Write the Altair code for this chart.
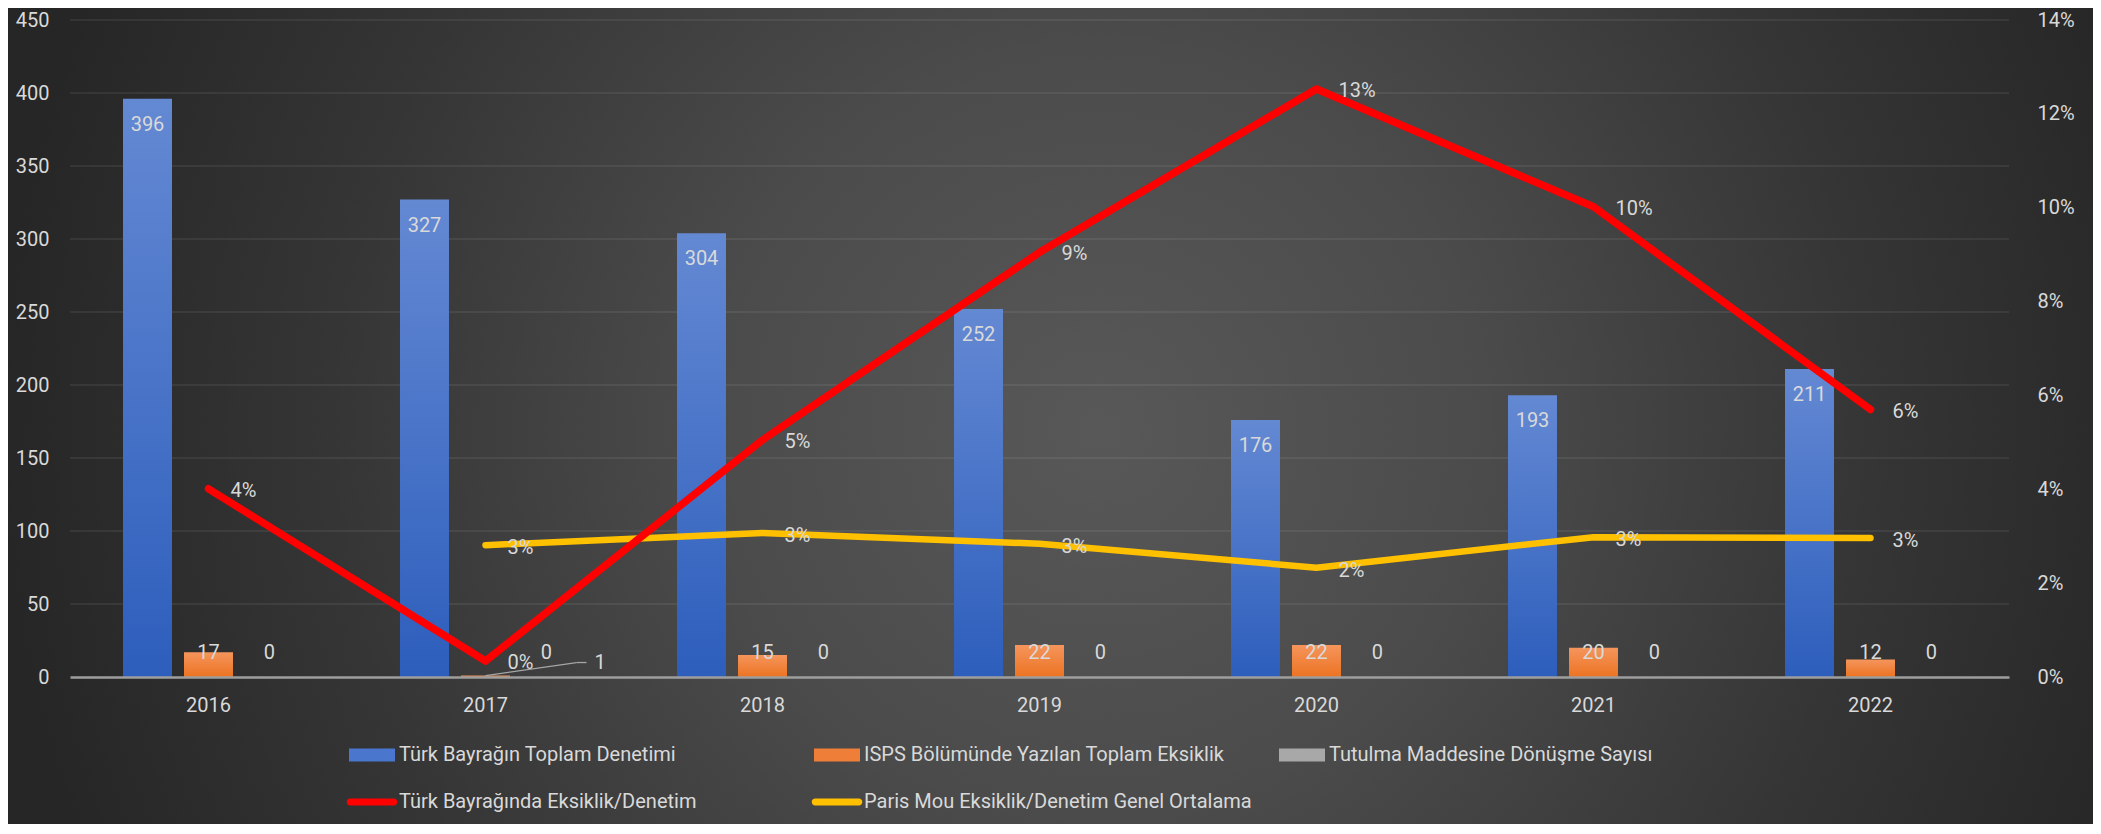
import altair as alt
import pandas as pd

# ---------------- data ----------------
years = ["2016", "2017", "2018", "2019", "2020", "2021", "2022"]
toplam_denetim = [396, 327, 304, 252, 176, 193, 211]
isps_eksiklik = [17, 1, 15, 22, 22, 20, 12]
tutulma = [0, 0, 0, 0, 0, 0, 0]
eksiklik_orani = [0.0401, 0.0034, 0.0505, 0.0905, 0.1253, 0.1002, 0.0570]
paris_mou = [None, 0.0281, 0.0307, 0.0284, 0.0233, 0.0298, 0.0296]
left_ticks = [0, 50, 100, 150, 200, 250, 300, 350, 400, 450]
right_ticks = [0, 0.02, 0.04, 0.06, 0.08, 0.10, 0.12, 0.14]

S_BLUE = "Türk Bayrağın Toplam Denetimi"
S_ORANGE = "ISPS Bölümünde Yazılan Toplam Eksiklik"
S_GRAY = "Tutulma Maddesine Dönüşme Sayısı"
S_RED = "Türk Bayrağında Eksiklik/Denetim"
S_YELLOW = "Paris Mou Eksiklik/Denetim Genel Ortalama"
bar_series = [S_BLUE, S_ORANGE, S_GRAY]
bar_kinds = ["blue", "orange", "gray"]
all_series = bar_series + [S_RED, S_YELLOW]

rows = []
for s, k, vals in zip(bar_series, bar_kinds, [toplam_denetim, isps_eksiklik, tutulma]):
    for y, v in zip(years, vals):
        rows.append({"year": y, "series": s, "kind": k, "v": v})
bars_df = pd.DataFrame(rows)
lines_df = pd.DataFrame({"year": years, "red": eksiklik_orani, "yellow": paris_mou})
ticks_df = pd.DataFrame({"tick": left_ticks[1:]})
legend_df = pd.DataFrame({"series": all_series})
bg_df = pd.DataFrame({"bg": [0]})

# ---------------- style ----------------
W, H = 1939, 657
LBL = "#D9D9D9"
FONT = "Roboto"
FS = 20

x_enc = alt.X(
    "year:N", sort=years, title=None,
    scale=alt.Scale(type="band", paddingInner=0, paddingOuter=0),
    axis=alt.Axis(labelAngle=0, ticks=False, tickSize=0, domain=True, domainColor="#9E9E9E",
                  domainWidth=2.5, labelPadding=18, labelFontSize=FS, labelColor=LBL,
                  labelFont=FONT, grid=False, zindex=1),
)
xoff = alt.XOffset("series:N", scale=alt.Scale(domain=bar_series, paddingInner=0.197, paddingOuter=0.869))

yl_scale = alt.Scale(domain=[0, 450], nice=False, zero=True)
yl_axis = alt.Axis(values=left_ticks, grid=False, domain=False, ticks=False, tickSize=0,
                   labelPadding=21, labelFontSize=FS, labelColor=LBL, labelFont=FONT, zindex=1)

def yl(field):
    return alt.Y(field, scale=yl_scale, axis=yl_axis, title=None)

yr_scale = alt.Scale(domain=[0, 0.14], nice=False, zero=True)
yr_axis = alt.Axis(orient="right", values=right_ticks, format=".0%", grid=False, domain=False,
                   ticks=False, tickSize=0, labelPadding=28, labelAlign="left", labelFontSize=FS,
                   labelColor=LBL, labelFont=FONT, zindex=1)

def yr(field):
    return alt.Y(field, scale=yr_scale, axis=yr_axis, title=None)

def lin_grad(top, bottom):
    return alt.LinearGradient(gradient="linear", x1=0, y1=0, x2=0, y2=1,
                              stops=[alt.GradientStop(color=top, offset=0),
                                     alt.GradientStop(color=bottom, offset=1)])

bg_grad = alt.RadialGradient(gradient="radial", x1=0.5, y1=0.5, r1=0, x2=0.5, y2=0.5, r2=0.5,
                             stops=[alt.GradientStop(color="#585858", offset=0),
                                    alt.GradientStop(color="#4B4B4B", offset=0.35),
                                    alt.GradientStop(color="#353535", offset=0.7),
                                    alt.GradientStop(color="#262626", offset=1)])

# ---------------- left layers ----------------
background = alt.Chart(bg_df).mark_rect(fill=bg_grad, strokeWidth=0).encode(
    x=alt.value(-70), x2=alt.value(2130), y=alt.value(-690), y2=alt.value(1510)
)

grid = alt.Chart(ticks_df).mark_rule(color="#FFFFFF", opacity=0.09, strokeWidth=1.5).encode(
    y=yl("tick:Q")
)

def bar_layer(kind, top, bottom):
    return alt.Chart(bars_df).transform_filter(f"datum.kind == '{kind}'").mark_bar(
        fill=lin_grad(top, bottom), strokeWidth=0
    ).encode(x=x_enc, xOffset=xoff, y=yl("v:Q"))

bars_blue = bar_layer("blue", "#6489D3", "#2D5EBC")
bars_orange = bar_layer("orange", "#F5955C", "#EC7322")
bars_gray = bar_layer("gray", "#BDBDBD", "#8F8F8F")

bar_labels = alt.Chart(bars_df).transform_filter(
    "!(datum.year == '2017' && datum.kind == 'orange')"
).transform_calculate(labpos="max(datum.v - 17.8, 16.4)").mark_text(
    fontSize=FS, color=LBL, font=FONT, baseline="middle", align="center"
).encode(x=x_enc, xOffset=xoff, y=yl("labpos:Q"), text="v:Q")

moved_label = alt.Chart(bars_df).transform_filter(
    "datum.year == '2017' && datum.kind == 'orange'"
).mark_text(fontSize=FS, color=LBL, font=FONT, baseline="middle", align="center",
            dx=114.5, dy=-12.5).encode(x=x_enc, y=yl("v:Q"), text="v:Q")

leader1 = alt.Chart(bars_df).transform_filter(
    "datum.year == '2017' && datum.kind == 'orange'"
).mark_rule(color="#A6A6A6", strokeWidth=1.3, x2Offset=91, y2Offset=-13).encode(
    x=x_enc, x2=alt.X2("year:N"), y=yl("v:Q"), y2=alt.Y2("v:Q")
)
leader2 = alt.Chart(bars_df).transform_filter(
    "datum.year == '2017' && datum.kind == 'orange'"
).mark_rule(color="#A6A6A6", strokeWidth=1.3, xOffset=91, x2Offset=101, yOffset=-13,
            y2Offset=-13).encode(
    x=x_enc, x2=alt.X2("year:N"), y=yl("v:Q"), y2=alt.Y2("v:Q")
)

RECT = "M-1,-0.28H1V0.28H-1Z"
LINE = "M-0.95,-0.15H0.95A0.15,0.15 0 0 1 0.95,0.15H-0.95A0.15,0.15 0 0 1 -0.95,-0.15Z"
leg = alt.Legend(title=None, orient="none", legendX=279, legendY=712, columns=3,
                 direction="horizontal", gridAlign="all", columnPadding=24, rowPadding=14,
                 symbolSize=2116, symbolStrokeWidth=0, symbolOpacity=1, labelFontSize=20,
                 labelColor=LBL, labelFont=FONT, labelLimit=700, labelOffset=4, padding=0,
                 zindex=1)
legend_layer = alt.Chart(legend_df).mark_point(filled=True, opacity=0).encode(
    color=alt.Color("series:N", legend=leg,
                    scale=alt.Scale(domain=all_series,
                                    range=["#4A77CD", "#EF7F38", "#A8A8A8", "#FF0000", "#FFC000"])),
    shape=alt.Shape("series:N", legend=leg,
                    scale=alt.Scale(domain=all_series, range=[RECT, RECT, RECT, LINE, LINE])),
)

left = alt.layer(background, grid, bars_blue, bars_orange, bars_gray, bar_labels,
                 leader1, leader2, moved_label, legend_layer)

# ---------------- right layers ----------------
red_line = alt.Chart(lines_df).mark_line(color="#FF0000", strokeWidth=7.5, strokeCap="round",
                                         strokeJoin="round").encode(x=x_enc, y=yr("red:Q"))
yellow_line = alt.Chart(lines_df).transform_filter("isValid(datum.yellow)").mark_line(
    color="#FFC000", strokeWidth=6.5, strokeCap="round", strokeJoin="round"
).encode(x=x_enc, y=yr("yellow:Q"))
red_labels = alt.Chart(lines_df).mark_text(
    fontSize=FS, color=LBL, font=FONT, align="left", baseline="middle", dx=22, dy=2
).encode(x=x_enc, y=yr("red:Q"), text=alt.Text("red:Q", format=".0%"))
yellow_labels = alt.Chart(lines_df).transform_filter("isValid(datum.yellow)").mark_text(
    fontSize=FS, color=LBL, font=FONT, align="left", baseline="middle", dx=22, dy=3
).encode(x=x_enc, y=yr("yellow:Q"), text=alt.Text("yellow:Q", format=".0%"))

right = alt.layer(yellow_line, red_line, red_labels, yellow_labels)

chart = alt.layer(left, right).resolve_scale(y="independent").properties(
    width=W, height=H,
    padding={"left": 62, "top": 12, "right": 84, "bottom": 147},
    autosize=alt.AutoSizeParams(type="none"),
    background="#2E2E2E",
).configure_view(stroke=None).configure(font=FONT)

chart.save("out.html", embed_options={"renderer": "svg", "actions": False})
